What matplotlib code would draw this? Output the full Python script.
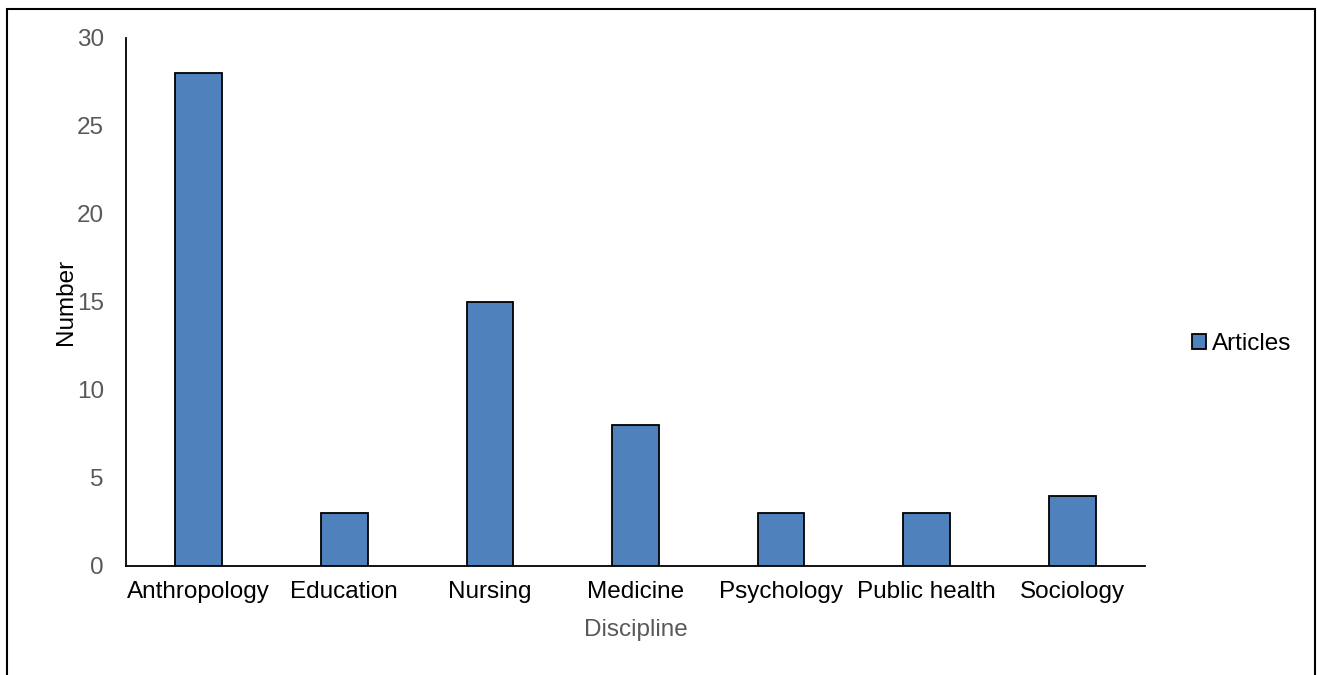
import matplotlib.pyplot as plt
from matplotlib.patches import Rectangle

disciplines = ["Anthropology", "Education", "Nursing", "Medicine",
               "Psychology", "Public health", "Sociology"]
articles = [28, 3, 15, 8, 3, 3, 4]
series_name = "Articles"

W, H = 1317, 675
plt.rcParams['font.family'] = ['Liberation Sans', 'DejaVu Sans']
fs = 17.5

fig = plt.figure(figsize=(W / 100, H / 100), dpi=100)
ax = fig.add_axes([126 / W, 1 - 566 / H, (1145 - 126) / W, (566 - 38) / H])

x = range(len(disciplines))
ax.bar(x, articles, width=0.32, color='#4F81BD', edgecolor='black',
       linewidth=1.3, label=series_name, zorder=3)

ax.set_xlim(-0.5, len(disciplines) - 0.5)
ax.set_ylim(0, 30)
ax.set_yticks(range(0, 31, 5))
ax.set_xticks(list(x))
ax.set_xticklabels(disciplines, fontsize=fs, color='black')
ax.tick_params(axis='y', labelsize=fs, labelcolor='#595959', length=0, pad=16)
ax.tick_params(axis='x', length=0, pad=11)

for side in ['top', 'right']:
    ax.spines[side].set_visible(False)
for side in ['left', 'bottom']:
    ax.spines[side].set_linewidth(1.3)
    ax.spines[side].set_color('black')

ax.set_ylabel("Number", fontsize=fs, color='black', labelpad=0)
ax.set_xlabel("Discipline", fontsize=fs, color='#595959', labelpad=11)

leg = ax.legend(loc='center left', bbox_to_anchor=(1.025, 0.42), frameon=False,
                fontsize=fs, handlelength=0.55, handleheight=0.55,
                handletextpad=0.25)

# outer frame around the chart
fig.patches.append(Rectangle((7 / W, -0.05), (1315 - 7) / W, 1 - 9 / H + 0.05,
                             transform=fig.transFigure, fill=False,
                             edgecolor='black', linewidth=1.5, clip_on=False))

fig.savefig("out.png", dpi=100)
